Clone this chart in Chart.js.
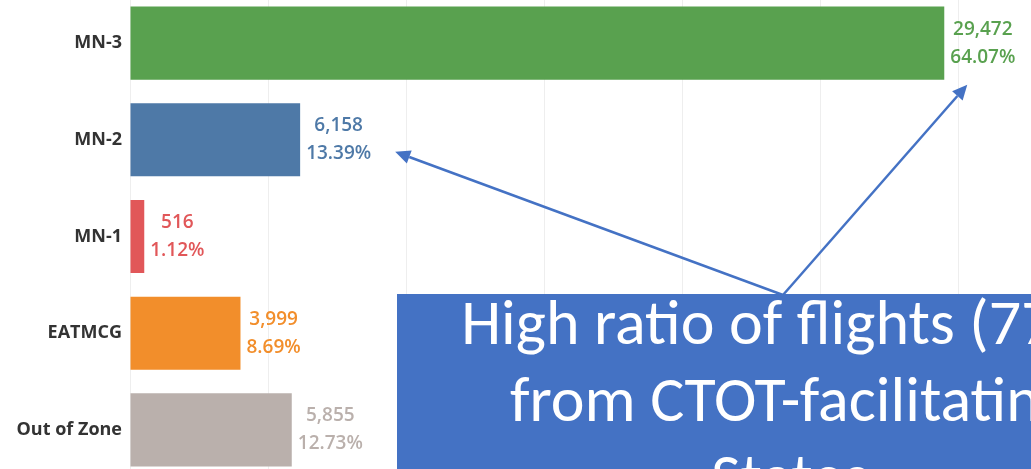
<!DOCTYPE html>
<html>
<head>
<meta charset="utf-8">
<script src="https://cdn.jsdelivr.net/npm/chart.js@4.4.1/dist/chart.umd.min.js"></script>
<style>
  html, body { margin: 0; padding: 0; background: #fff; overflow: hidden; width: 1031px; height: 469px; }
  #wrap { position: absolute; left: 0; top: -16px; width: 1097px; height: 505px; }
  .callout {
    position: absolute; left: 397px; top: 294px; width: 786px; height: 240px;
    background: #4472C4; color: #fff; text-align: center;
    font-family: Carlito, "Liberation Sans Narrow", Lato, sans-serif;
    font-size: 64px; line-height: 77px; box-sizing: border-box;
  }
  .callout div { position: relative; top: -10px; }
</style>
</head>
<body>
<div id="wrap"><canvas id="chart" width="1097" height="505"></canvas></div>
<div class="callout"><div>High ratio of flights (77%)<br>from CTOT-facilitating<br>States</div></div>
<script>
const categories = ['MN-3', 'MN-2', 'MN-1', 'EATMCG', 'Out of Zone'];
const flights = [29472, 6158, 516, 3999, 5855];
const shares = [64.07, 13.39, 1.12, 8.69, 12.73];
const barColors = ['#59A14F', '#4E79A7', '#E15759', '#F28E2B', '#BAB0AC'];
const xTicks = [0, 5000, 10000, 15000, 20000, 25000, 30000, 35000];

const LABEL_FONT = '600 19px "Open Sans"';
let labelBoxes = [];

// two-line value labels to the right of each bar
const valueLabels = {
    id: 'valueLabels',
    afterDatasetsDraw(chart) {
        const ctx = chart.ctx;
        const bars = chart.getDatasetMeta(0).data;
        labelBoxes = [];
        ctx.save();
        ctx.font = LABEL_FONT;
        ctx.textBaseline = 'middle';
        ctx.textAlign = 'center';
        bars.forEach((bar, i) => {
            const l1 = flights[i].toLocaleString('en-US');
            const l2 = shares[i].toFixed(2) + '%';
            const w = Math.max(ctx.measureText(l1).width, ctx.measureText(l2).width);
            const left = bar.x + 6;
            ctx.fillStyle = barColors[i];
            ctx.fillText(l1, left + w / 2, bar.y - 14);
            ctx.fillText(l2, left + w / 2, bar.y + 14);
            labelBoxes.push({left: left, right: left + w, y: bar.y, bottom: bar.y + bar.height / 2});
        });
        ctx.restore();
    }
};

function arrow(ctx, x1, y1, x2, y2) {
    const a = Math.atan2(y2 - y1, x2 - x1);
    const len = 15, half = 7;
    const bx = x2 - len * Math.cos(a), by = y2 - len * Math.sin(a);
    ctx.beginPath();
    ctx.moveTo(x1, y1);
    ctx.lineTo(bx, by);
    ctx.stroke();
    ctx.beginPath();
    ctx.moveTo(x2, y2);
    ctx.lineTo(bx + half * Math.sin(a), by - half * Math.cos(a));
    ctx.lineTo(bx - half * Math.sin(a), by + half * Math.cos(a));
    ctx.closePath();
    ctx.fill();
}

// callout arrows from the top of the text box to the MN-3 and MN-2 labels
const calloutArrows = {
    id: 'calloutArrows',
    afterDraw(chart, args, opts) {
        if (labelBoxes.length < 2) return;
        const ctx = chart.ctx;
        const bars = chart.getDatasetMeta(0).data;
        const box = document.querySelector('.callout').getBoundingClientRect();
        const cv = chart.canvas.getBoundingClientRect();
        const sx = opts.fromX - cv.left, sy = box.top - cv.top + 1;
        ctx.save();
        ctx.strokeStyle = '#4472C4';
        ctx.fillStyle = '#4472C4';
        ctx.lineWidth = 2.5;
        arrow(ctx, sx, sy, bars[0].x + 23, labelBoxes[0].bottom + 5);
        arrow(ctx, sx, sy, labelBoxes[1].right + 24, labelBoxes[1].y + 12);
        ctx.restore();
    }
};

new Chart(document.getElementById('chart'), {
    type: 'bar',
    data: {
        labels: categories,
        datasets: [{
            data: flights,
            backgroundColor: barColors,
            borderWidth: 0,
            categoryPercentage: 1,
            barPercentage: 0.756
        }]
    },
    options: {
        indexAxis: 'y',
        responsive: false,
        devicePixelRatio: 1,
        animation: false,
        layout: { padding: 0 },
        plugins: {
            legend: { display: false },
            tooltip: { enabled: false },
            calloutArrows: { fromX: 783 }
        },
        scales: {
            x: {
                min: xTicks[0],
                max: xTicks[xTicks.length - 1],
                afterBuildTicks: (axis) => { axis.ticks = xTicks.map(v => ({value: v})); },
                ticks: { display: false },
                grid: { color: '#eeeeee', lineWidth: 1, drawTicks: false },
                border: { display: false }
            },
            y: {
                grid: { display: false },
                border: { display: false },
                ticks: {
                    color: '#333333',
                    padding: 0,
                    font: { family: '"Open Sans"', size: 18, weight: '700' }
                },
                afterFit: (axis) => { axis.width = 130; }
            }
        }
    },
    plugins: [valueLabels, calloutArrows]
});
</script>
</body>
</html>
